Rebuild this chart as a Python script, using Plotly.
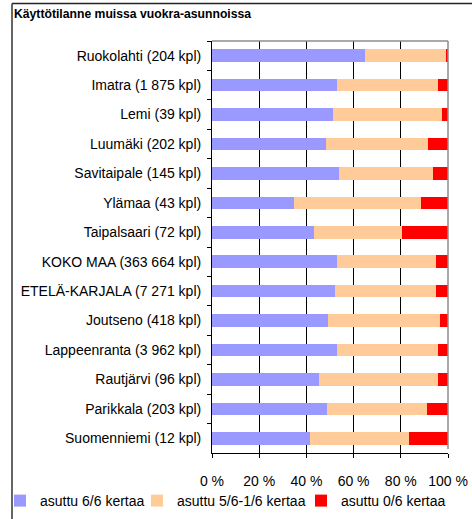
import plotly.graph_objects as go

# Municipalities (top to bottom as listed) with housing unit counts
categories = [
    "Ruokolahti (204 kpl)",
    "Imatra (1 875 kpl)",
    "Lemi (39 kpl)",
    "Luumäki (202 kpl)",
    "Savitaipale (145 kpl)",
    "Ylämaa (43 kpl)",
    "Taipalsaari (72 kpl)",
    "KOKO MAA (363 664 kpl)",
    "ETELÄ-KARJALA (7 271 kpl)",
    "Joutseno (418 kpl)",
    "Lappeenranta (3 962 kpl)",
    "Rautjärvi (96 kpl)",
    "Parikkala (203 kpl)",
    "Suomenniemi (12 kpl)",
]

# Share of units (%) by occupancy
full_6_6 = [64.7, 52.8, 51.3, 48.5, 53.8, 34.9, 43.1, 52.8, 52.3, 49.3, 52.8, 45.3, 48.9, 41.7]
partly_5_1 = [34.3, 42.8, 46.1, 43.1, 40.0, 53.5, 37.5, 42.2, 42.7, 47.4, 42.8, 50.3, 42.2, 41.6]
empty_0_6 = [1.0, 4.4, 2.6, 8.4, 6.2, 11.6, 19.4, 5.0, 5.0, 3.3, 4.4, 4.4, 8.9, 16.7]

series_names = ["asuttu 6/6 kertaa", "asuttu 5/6-1/6 kertaa", "asuttu 0/6 kertaa"]
series_colors = ["#9999FF", "#FFCC99", "#FF0000"]

x_ticks = [0, 20, 40, 60, 80, 100]
x_ticktext = ["0 %", "20 %", "40 %", "60 %", "80 %", "100 %"]

FONT = "Liberation Sans, Arial, sans-serif"

fig = go.Figure()
legend_ids = ["legend", "legend2", "legend3"]
for name, vals, color, lg in zip(series_names, [full_6_6, partly_5_1, empty_0_6], series_colors, legend_ids):
    fig.add_trace(go.Bar(
        y=categories, x=vals, name=name, orientation="h",
        marker=dict(color=color, line=dict(width=0)),
        legend=lg, showlegend=True, hoverinfo="x+y+name",
    ))

# plot area: x 212..448, y 41..453 of a 472x519 page
W, H = 472, 519
L, R, T, B = 212, 24, 41, 66
pw, ph = W - L - R, H - T - B

def px_x(p):
    return (p - L) / pw

def px_y(p):
    return (H - B - p) / ph

# one legend per series, each placed by page pixel position
legend_common = dict(
    orientation="h", xanchor="left", yanchor="middle",
    font=dict(family=FONT, size=14, color="black"),
    bgcolor="rgba(0,0,0,0)", itemwidth=30,
)
legend_left = [0, 137, 301]
legend_mid_y = 501

fig.update_layout(
    width=W, height=H,
    margin=dict(l=L, r=R, t=T, b=B, pad=0, autoexpand=False),
    paper_bgcolor="white", plot_bgcolor="white",
    barmode="stack", bargap=0.57,
    showlegend=True,
    font=dict(family=FONT, size=14, color="black"),
    title=dict(
        text="<b>Käyttötilanne muissa vuokra-asunnoissa</b>",
        x=14 / W, xanchor="left", xref="container",
        y=1 - 14 / H, yanchor="middle", yref="container",
        font=dict(family=FONT, size=12.2, color="black"),
    ),
    legend=dict(x=px_x(legend_left[0]), y=px_y(legend_mid_y), **legend_common),
    legend2=dict(x=px_x(legend_left[1]), y=px_y(legend_mid_y), **legend_common),
    legend3=dict(x=px_x(legend_left[2]), y=px_y(legend_mid_y), **legend_common),
    xaxis=dict(
        range=[0, 100], tickvals=x_ticks, ticktext=x_ticktext,
        showgrid=True, gridcolor="black", gridwidth=1,
        showline=True, linecolor="black", linewidth=1,
        ticks="outside", ticklen=4, tickcolor="black",
        ticklabelstandoff=11,
        zeroline=False, fixedrange=True,
        tickfont=dict(family=FONT, size=14, color="black"),
    ),
    yaxis=dict(
        type="category", autorange="reversed",
        tickson="boundaries", ticks="outside", ticklen=4, tickcolor="black",
        ticklabelstandoff=7,
        showline=True, linecolor="black", linewidth=1,
        showgrid=False, fixedrange=True,
        tickfont=dict(family=FONT, size=14, color="black"),
    ),
    shapes=[
        # gray frame on top and right of the plot area
        dict(type="line", xref="paper", yref="paper", x0=0, x1=1, y0=1, y1=1,
             line=dict(color="#8c8c8c", width=1.5), layer="above"),
        dict(type="line", xref="paper", yref="paper", x0=1, x1=1, y0=0.01, y1=1,
             line=dict(color="#8c8c8c", width=1.5), layer="above"),
        # chart frame (left and top edges)
        dict(type="line", xref="paper", yref="paper", x0=px_x(12), x1=px_x(W + 5),
             y0=px_y(3.5), y1=px_y(3.5), line=dict(color="#222222", width=1.5)),
        dict(type="line", xref="paper", yref="paper", x0=px_x(12), x1=px_x(12),
             y0=px_y(3.5), y1=px_y(H + 5), line=dict(color="#333333", width=1.5)),
    ],
)

fig.write_html("out.html")
